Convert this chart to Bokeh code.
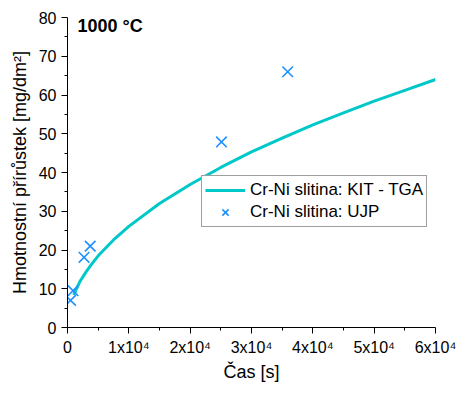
from bokeh.plotting import figure
from bokeh.models import FixedTicker, Label, Legend, LegendItem, Range1d
from bokeh.embed import file_html
from bokeh.resources import INLINE

# KIT - TGA curve
tga_t = [1000, 2000, 3000, 4000, 5000, 7500, 10000, 15000, 20000, 25000, 30000,
         35000, 40000, 45000, 50000, 55000, 60000]
tga_m = [8.4, 11.8, 14.3, 16.5, 18.5, 22.6, 26.1, 32.0, 36.9, 41.3, 45.3,
         48.9, 52.3, 55.4, 58.4, 61.2, 64.0]

# UJP points
ujp_t = [500, 900, 2700, 3700, 25100, 35900]
ujp_m = [7.0, 9.5, 18.1, 21.0, 47.9, 66.0]

x_ticks = [0, 10000, 20000, 30000, 40000, 50000, 60000]
x_labels = ["0", "1x10⁴", "2x10⁴", "3x10⁴", "4x10⁴", "5x10⁴", "6x10⁴"]
y_ticks = [0, 10, 20, 30, 40, 50, 60, 70, 80]

FONT = "Liberation Sans"

p = figure(width=460, height=393, output_backend="svg", toolbar_location=None,
           x_range=Range1d(0, 60000), y_range=Range1d(0, 80),
           min_border_left=67, min_border_right=25, min_border_top=17, min_border_bottom=66)
p.grid.visible = False
p.outline_line_color = None
p.background_fill_color = "white"

l1 = p.line(tga_t, tga_m, line_color="#00C8C8", line_width=3)
s1 = p.scatter(ujp_t, ujp_m, marker="x", size=15, line_color="#1E90FF", line_width=1.6)

p.xaxis.ticker = FixedTicker(ticks=x_ticks, minor_ticks=[5000, 15000, 25000, 35000, 45000, 55000])
p.xaxis.major_label_overrides = {t: l for t, l in zip(x_ticks, x_labels)}
p.yaxis.ticker = FixedTicker(ticks=y_ticks, minor_ticks=[5, 15, 25, 35, 45, 55, 65, 75])

for ax in (p.xaxis[0], p.yaxis[0]):
    ax.axis_line_color = "black"
    ax.axis_line_width = 1
    ax.major_tick_line_color = "black"
    ax.minor_tick_line_color = "black"
    ax.major_tick_out = 6
    ax.major_tick_in = 0
    ax.minor_tick_out = 3
    ax.minor_tick_in = 0
    ax.major_label_text_font = FONT
    ax.major_label_text_font_size = "16px"
    ax.major_label_text_color = "black"
    ax.axis_label_text_font = FONT
    ax.axis_label_text_font_size = "18px"
    ax.axis_label_text_font_style = "normal"
    ax.axis_label_text_color = "black"

p.xaxis.axis_label = "Čas [s]"
p.yaxis.axis_label = "Hmotnostní přírůstek [mg/dm²]"
p.xaxis.major_label_standoff = 5
p.xaxis.axis_label_standoff = 3
p.yaxis.major_label_standoff = 5
p.yaxis.axis_label_standoff = 6

legend = Legend(items=[LegendItem(label="Cr-Ni slitina: KIT - TGA", renderers=[l1]),
                       LegendItem(label="Cr-Ni slitina: UJP", renderers=[s1])],
                location=(134, 100))
legend.label_text_font = FONT
legend.label_text_font_size = "17px"
legend.label_text_color = "black"
legend.border_line_color = "#404040"
legend.border_line_width = 1
legend.padding = 3
legend.spacing = 0
legend.margin = 0
legend.glyph_width = 40
legend.glyph_height = 22
legend.label_height = 22
legend.label_standoff = 5
legend.background_fill_alpha = 1
p.add_layout(legend, "center")

p.add_layout(Label(x=10, y=292, x_units="screen", y_units="screen", text="1000 °C",
                   text_font=FONT, text_font_size="18px", text_font_style="bold",
                   text_color="black"))

open("out.html", "w").write(file_html(p, INLINE))
